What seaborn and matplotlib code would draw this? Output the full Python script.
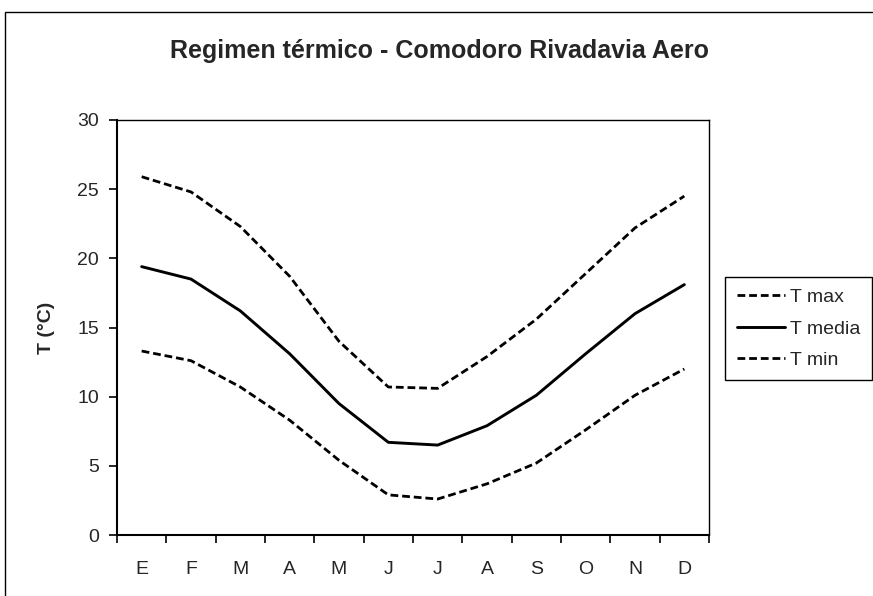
import numpy as np
import pandas as pd
import seaborn as sns
import matplotlib.pyplot as plt
from matplotlib.patches import Rectangle

months = ["E", "F", "M", "A", "M", "J", "J", "A", "S", "O", "N", "D"]
t_max = [25.9, 24.8, 22.3, 18.7, 14.0, 10.7, 10.6, 12.9, 15.6, 18.9, 22.2, 24.5]
t_media = [19.4, 18.5, 16.2, 13.1, 9.5, 6.7, 6.5, 7.9, 10.1, 13.1, 16.0, 18.1]
t_min = [13.3, 12.6, 10.7, 8.3, 5.4, 2.9, 2.6, 3.7, 5.2, 7.6, 10.1, 12.0]

df = pd.DataFrame({
    "mes": np.arange(len(months)),
    "T max": t_max,
    "T media": t_media,
    "T min": t_min,
})

sns.set_theme(style="white")
plt.rcParams["font.family"] = ["Liberation Sans", "DejaVu Sans"]

fig = plt.figure(figsize=(8.73, 5.96), dpi=100)
ax = fig.add_axes([117 / 873, 1 - 535 / 596, 592 / 873, 415 / 596])

# Excel-like dashed style for max/min
dash = (2.8, 1.4)
sns.lineplot(data=df, x="mes", y="T max", ax=ax, color="black", lw=2.0,
             label="T max")
sns.lineplot(data=df, x="mes", y="T media", ax=ax, color="black", lw=2.1,
             label="T media")
sns.lineplot(data=df, x="mes", y="T min", ax=ax, color="black", lw=2.0,
             label="T min")
for ln in [ax.lines[0], ax.lines[2]]:
    ln.set_dashes(dash)

ax.set_xlim(-0.5, len(months) - 0.5)
ax.set_ylim(0, 30)
ax.set_yticks(range(0, 31, 5))
ax.set_xticks(np.arange(len(months)))
ax.set_xticklabels(months)
ax.set_xticks(np.arange(-0.5, len(months)), minor=True)
ax.tick_params(axis="x", which="major", length=0, pad=19, labelsize=14)
ax.tick_params(axis="x", which="minor", length=6, width=1.2, direction="out",
               color="black", bottom=True)
ax.tick_params(axis="y", length=6, width=1.2, direction="out", color="black",
               left=True, labelsize=14, pad=7)

for s in ax.spines.values():
    s.set_color("black")
    s.set_linewidth(1.0)
ax.spines["left"].set_linewidth(1.5)
ax.spines["bottom"].set_linewidth(1.5)

ax.set_xlabel("")
ax.set_ylabel("T (°C)", fontsize=14, fontweight="bold", labelpad=16)
fig.text(440 / 873, 1 - 51 / 596, "Regimen térmico - Comodoro Rivadavia Aero",
         ha="center", va="center", fontsize=18, fontweight="bold")

leg = ax.legend(loc="upper left", bbox_to_anchor=(725 / 873, 1 - 277 / 596),
                bbox_transform=fig.transFigure, frameon=True, fancybox=False,
                edgecolor="black", fontsize=14, handlelength=2.5,
                handletextpad=0.25, labelspacing=0.7, borderpad=0.6,
                borderaxespad=0, framealpha=1)
leg.get_frame().set_linewidth(1.0)

# chart area border (Excel style)
fig.patches.append(Rectangle((5 / 873, -0.05), 1.0, 1 - 12 / 596 + 0.05,
                             transform=fig.transFigure, fill=False,
                             edgecolor="black", linewidth=1.0))

fig.savefig("out.png", dpi=100)
